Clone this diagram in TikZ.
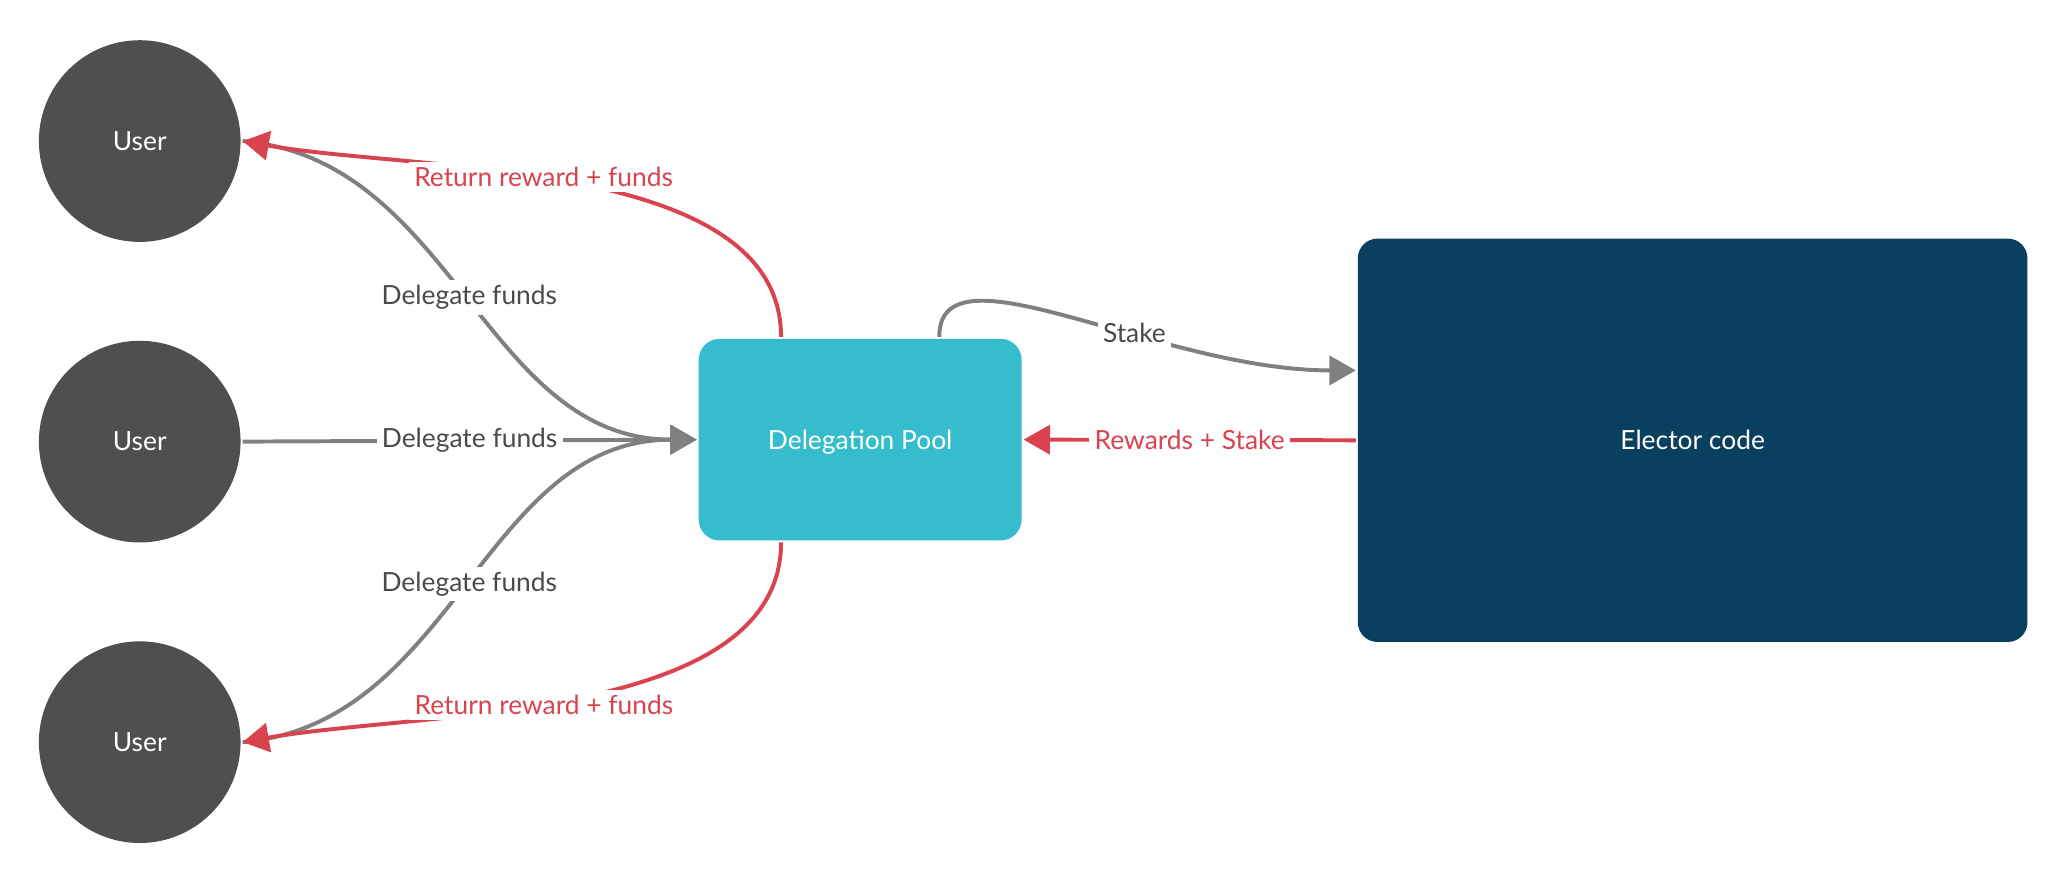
\documentclass[tikz,border=0pt]{standalone}
\usepackage{fontspec}
\setmainfont{Lato}
\usepackage{tikz}
\usetikzlibrary{arrows.meta,positioning}

\definecolor{userGray}{HTML}{4F4F4F}
\definecolor{poolCyan}{HTML}{35BDCD}
\definecolor{electorBlue}{HTML}{0A405F}
\definecolor{lineGray}{HTML}{808080}
\definecolor{textGray}{HTML}{4A4A4A}
\definecolor{returnRed}{HTML}{D9434F}

\begin{document}
\begin{tikzpicture}[->,>={Triangle[length=10pt,width=11pt]}, x=0.5pt, y=-0.5pt, node distance=114pt, line width=1.5pt]
        \tikzset{
           user/.style={
                        circle,
                        fill=userGray,
                        text=white,
                        minimum size=76.5pt,
                        font=\fontsize{10}{12}\selectfont
                       },
           pool/.style={
                        rectangle,
                        rounded corners=8pt,
                        fill=poolCyan,
                        text=white,
                        minimum width=122.5pt,
                        minimum height=76.5pt,
                        text height=1.6ex,
                        text depth=0.1ex,
                        font=\fontsize{10}{12}\selectfont
                       },
           elector/.style={
                        rectangle,
                        rounded corners=7.5pt,
                        fill=electorBlue,
                        text=white,
                        minimum width=254pt,
                        minimum height=153pt,
                        font=\fontsize{10}{12}\selectfont
                       },
           give/.style={draw=lineGray},
           back/.style={draw=returnRed},
           lbl/.style={fill=white, text=textGray, inner sep=2pt, font=\fontsize{10}{12}\selectfont},
           lblred/.style={lbl, text=returnRed},
                 };
        \useasboundingbox[-] (0,0) rectangle (1568,668);
        %----------------
        \node[user] (userTop) at (106,107) {User};
        \node[user] (userMid) [below of=userTop] {User};
        \node[user] (userBot) [below of=userMid] {User};
        \node[pool] (pool) at (652.5,333.5) {Delegation Pool};
        \node[elector] (elector) at (1284,334) {Elector code};
        %----------------
        \path (userTop.east) edge[give, out=-5, in=180] node[lbl] {Delegate funds} (pool.west)
              (userMid.east) edge[give] node[lbl] {Delegate funds} (pool.west)
              (userBot.east) edge[give, out=5, in=180] node[lbl] {Delegate funds} (pool.west)
              ([xshift=-30pt]pool.north) edge[back, out=90, in=-10, looseness=0.8] node[lblred, pos=0.55] {Return reward + funds} (userTop.east)
              ([xshift=-30pt]pool.south) edge[back, out=-90, in=10, looseness=0.8] node[lblred, pos=0.55] {Return reward + funds} (userBot.east)
              ([xshift=30pt]pool.north) edge[give, out=90, in=180, out distance=37pt, in distance=75pt] node[lbl, pos=0.62] {Stake} ([yshift=26.5pt]elector.west)
              (elector.west) edge[back] node[lblred] {Rewards + Stake} (pool.east)
        ;
\end{tikzpicture}
\end{document}
